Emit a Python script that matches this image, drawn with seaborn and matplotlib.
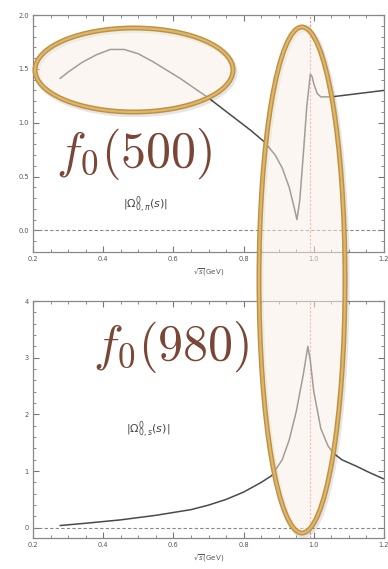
import numpy as np
import pandas as pd
import seaborn as sns
import matplotlib
matplotlib.use("Agg")
import matplotlib.pyplot as plt
from matplotlib.patches import Ellipse
from matplotlib.ticker import MultipleLocator

# ---- data ----
x_pi = [0.277, 0.30, 0.34, 0.38, 0.42, 0.46, 0.50, 0.54, 0.58, 0.62, 0.66, 0.70,
        0.74, 0.78, 0.82, 0.86, 0.89, 0.91, 0.93, 0.945, 0.952, 0.96, 0.97, 0.98,
        0.99, 0.995, 1.00, 1.01, 1.02, 1.05, 1.10, 1.15, 1.20]
y_pi = [1.41, 1.47, 1.56, 1.63, 1.68, 1.68, 1.64, 1.57, 1.49, 1.41, 1.32, 1.23,
        1.13, 1.03, 0.93, 0.82, 0.70, 0.58, 0.40, 0.20, 0.10, 0.28, 0.70, 1.15,
        1.45, 1.43, 1.36, 1.27, 1.24, 1.24, 1.26, 1.28, 1.30]

x_s = [0.277, 0.35, 0.40, 0.45, 0.50, 0.55, 0.60, 0.65, 0.70, 0.75, 0.80, 0.85,
       0.88, 0.91, 0.93, 0.95, 0.97, 0.983, 0.99, 1.00, 1.02, 1.04, 1.055, 1.08,
       1.12, 1.16, 1.20]
y_s = [0.04, 0.08, 0.11, 0.14, 0.18, 0.22, 0.27, 0.32, 0.40, 0.50, 0.63, 0.80,
       0.92, 1.20, 1.55, 2.05, 2.70, 3.20, 2.95, 2.40, 1.75, 1.45, 1.32, 1.20,
       1.09, 0.97, 0.86]

x_ticks = [0.2, 0.4, 0.6, 0.8, 1.0, 1.2]
y_ticks_top = [0.0, 0.5, 1.0, 1.5, 2.0]
y_ticks_bot = [0, 1, 2, 3, 4]
threshold = 0.99

label_top = r"$f_0(500)$"
label_bot = r"$f_0(980)$"
omega_top = r"$|\Omega^0_{0,\pi}(s)|$"
omega_bot = r"$|\Omega^0_{0,s}(s)|$"
xlabel = r"$\sqrt{s}$(GeV)"

sns.set_theme(style="white")
W, H = 388, 569
fig = plt.figure(figsize=(W / 100, H / 100), dpi=100)

def fx(px):
    return px / W

def fy(py):
    return 1 - py / H

ax1 = fig.add_axes([fx(33), fy(252), fx(384) - fx(33), fy(15) - fy(252)])
ax2 = fig.add_axes([fx(33), fy(538), fx(384) - fx(33), fy(301) - fy(538)])

df_pi = pd.DataFrame({"x": x_pi, "y": y_pi})
df_s = pd.DataFrame({"x": x_s, "y": y_s})

line_col = "#4a4a4a"
sns.lineplot(data=df_pi, x="x", y="y", ax=ax1, color=line_col, lw=1.1,
             estimator=None, sort=False)
sns.lineplot(data=df_s, x="x", y="y", ax=ax2, color=line_col, lw=1.1,
             estimator=None, sort=False)

for ax, yt, ylim, minor in [(ax1, y_ticks_top, (-0.2, 2.0), 0.1),
                            (ax2, y_ticks_bot, (-0.18, 4.0), 0.2)]:
    ax.set_xlim(0.2, 1.2)
    ax.set_ylim(*ylim)
    ax.set_xticks(x_ticks)
    ax.set_xticklabels([f"{v:.1f}" for v in x_ticks])
    ax.set_yticks(yt)
    if ax is ax1:
        ax.set_yticklabels([f"{v:.1f}" for v in yt])
    else:
        ax.set_yticklabels([f"{v:d}" for v in yt])
    ax.xaxis.set_minor_locator(MultipleLocator(0.05))
    ax.yaxis.set_minor_locator(MultipleLocator(minor))
    ax.tick_params(which="both", direction="in", top=True, right=True,
                   bottom=True, left=True, colors="#777777", labelcolor="#555555")
    ax.tick_params(which="major", length=4, width=0.8, labelsize=4.8, pad=3)
    ax.tick_params(which="minor", length=2, width=0.6)
    for s in ax.spines.values():
        s.set_color("#888888")
        s.set_linewidth(0.9)
    ax.axhline(0, color="#888888", lw=0.8, ls=(0, (3, 2)), zorder=1)
    ax.axvline(threshold, color="#f08a8a", lw=0.8, ls=(0, (2, 1.5)), zorder=1)
    ax.set_xlabel(xlabel, fontsize=5, color="#555555", labelpad=3)
    ax.set_ylabel("")

brown = "#7a4636"
fig.text(fx(134), fy(154), label_top, fontsize=36, color=brown,
         ha="center", va="center", math_fontfamily="cm")
fig.text(fx(146), fy(205), omega_top, fontsize=8, color="#444444",
         ha="center", va="center")
fig.text(fx(171), fy(347), label_bot, fontsize=36, color=brown,
         ha="center", va="center", math_fontfamily="cm")
fig.text(fx(148), fy(430), omega_bot, fontsize=8, color="#444444",
         ha="center", va="center")

def add_ellipse(cx, cy, w, h):
    # soft shadow
    fig.add_artist(Ellipse((fx(cx + 1.5), fy(cy + 2)), w / W, h / H,
                           transform=fig.transFigure, facecolor="none",
                           edgecolor="#000000", alpha=0.10, lw=4.5, zorder=9))
    fig.add_artist(Ellipse((fx(cx), fy(cy)), w / W, h / H,
                           transform=fig.transFigure, facecolor="#f8efe4",
                           edgecolor="none", alpha=0.5, zorder=10))
    fig.add_artist(Ellipse((fx(cx), fy(cy)), w / W, h / H,
                           transform=fig.transFigure, facecolor="none",
                           edgecolor="#bf9142", lw=3.6, zorder=11))
    fig.add_artist(Ellipse((fx(cx), fy(cy)), w / W, h / H,
                           transform=fig.transFigure, facecolor="none",
                           edgecolor="#deb76c", lw=1.5, zorder=12))

add_ellipse(134, 70, 198, 84)
add_ellipse(302, 280, 86, 506)

fig.savefig("out.png", dpi=100)
